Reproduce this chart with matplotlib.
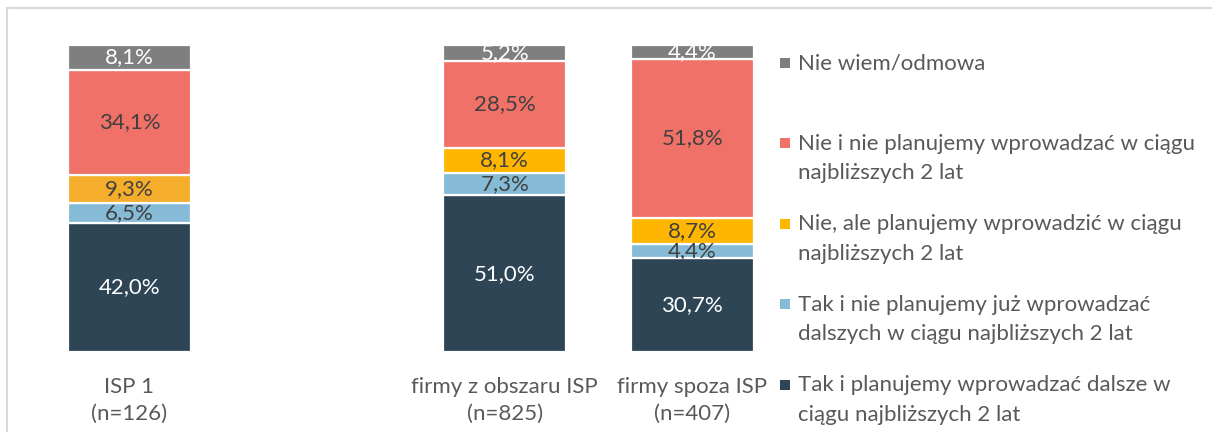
import matplotlib
matplotlib.use("Agg")
import matplotlib.pyplot as plt
from matplotlib.patches import Rectangle
import numpy as np

plt.rcParams['font.family'] = ['Lato', 'DejaVu Sans']

# ---- data ----
categories = ["ISP 1\n(n=126)", "firmy z obszaru ISP\n(n=825)", "firmy spoza ISP\n(n=407)"]
positions = [0, 2, 3]
series_names = [
    "Tak i planujemy wprowadzać dalsze w\nciągu najbliższych 2 lat",
    "Tak i nie planujemy już wprowadzać\ndalszych w ciągu najbliższych 2 lat",
    "Nie, ale planujemy wprowadzić w ciągu\nnajbliższych 2 lat",
    "Nie i nie planujemy wprowadzać w ciągu\nnajbliższych 2 lat",
    "Nie wiem/odmowa",
]
tak_dalsze = [42.0, 51.0, 30.7]
tak_nie = [6.5, 7.3, 4.4]
nie_ale = [9.3, 8.1, 8.7]
nie_nie = [34.1, 28.5, 51.8]
nie_wiem = [8.1, 5.2, 4.4]
series = [tak_dalsze, tak_nie, nie_ale, nie_nie, nie_wiem]

colors = ["#2E4556", "#86BBD8", "#FFB600", "#F07167", "#7F7F7F"]
bar_colors_override = {(2, 0): "#F4AE2C"}  # first bar's orange is a slightly different shade
label_colors = ["white", "#404040", "#404040", "#404040", "white"]

W, H = 1212, 432
fig = plt.figure(figsize=(W / 100, H / 100), dpi=100)

# frame
fig.patches.append(Rectangle((7 / W, -0.1), 1.2, (H - 8) / H + 0.1, transform=fig.transFigure,
                             fill=False, edgecolor="#D9D9D9", linewidth=1.5))

unit = 187.6
left_px = 129.5 - 0.5 * unit
ax = fig.add_axes([left_px / W, (H - 352) / H, 4 * unit / W, (352 - 45) / H])
ax.set_xlim(-0.5, 3.5)
ax.set_ylim(0, 100)

FS = 16
bottoms = np.zeros(len(positions))
for si, vals in enumerate(series):
    cols = [bar_colors_override.get((si, i), colors[si]) for i in range(len(positions))]
    bars = ax.bar(positions, vals, width=0.656, bottom=bottoms, color=cols,
                  edgecolor="white", linewidth=1.6, clip_on=False)
    for b, v, bt in zip(bars, vals, bottoms):
        ax.text(b.get_x() + b.get_width() / 2, bt + v / 2,
                f"{v:.1f}%".replace(".", ","), ha="center", va="center",
                fontsize=FS, color=label_colors[si])
    bottoms = bottoms + np.array(vals)

ax.set_xticks(positions)
ax.set_xticklabels(categories, fontsize=FS, color="#595959", linespacing=1.45)
ax.tick_params(axis="x", length=0, pad=18)
ax.set_yticks([])
for s in ax.spines.values():
    s.set_visible(False)

# legend (manual, equal spacing); y = baseline of first line in pixels
leg_order = [4, 3, 2, 1, 0]
first_base = 69.5
pitch = 80.4
line_px = 29.5
for k, si in enumerate(leg_order):
    yb = first_base + k * pitch
    fig.patches.append(Rectangle((780 / W, (H - yb + 1.5) / H), 10 / W, 10 / H,
                                 transform=fig.transFigure, facecolor=colors[si],
                                 edgecolor="none"))
    for j, line in enumerate(series_names[si].split("\n")):
        fig.text(798 / W, (H - yb - j * line_px) / H, line, ha="left", va="baseline",
                 fontsize=FS, color="#595959", transform=fig.transFigure)

fig.savefig("out.png", dpi=100)
